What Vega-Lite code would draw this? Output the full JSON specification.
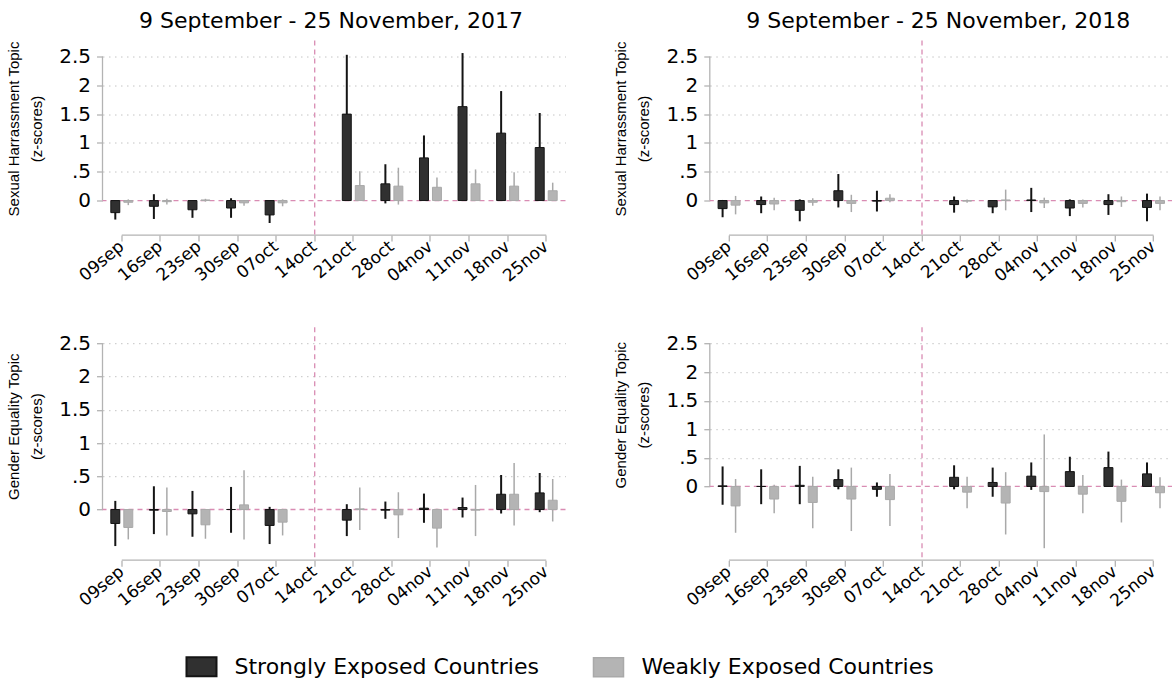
{
  "$schema": "https://vega.github.io/schema/vega-lite/v6.json",
  "background": "white",
  "padding": {"left": 6.5, "top": 9.5, "right": 0, "bottom": 5},
  "config": {
    "font": "DejaVu Sans",
    "view": {"stroke": null},
    "title": {"font": "DejaVu Sans", "fontSize": 22, "fontWeight": "normal", "color": "#000000", "anchor": "middle", "frame": "group", "baseline": "alphabetic", "offset": 7, "dx": -3},
    "axis": {"labelFont": "DejaVu Sans", "titleFont": "Liberation Sans", "labelColor": "#000000", "titleColor": "#000000", "titleFontWeight": "normal", "tickColor": "#b3b3b3", "tickWidth": 1.3, "tickSize": 6, "domain": false},
    "axisX": {"labelAngle": -40, "labelAlign": "right", "labelBaseline": "middle", "labelFontSize": 17, "labelPadding": 3, "grid": false, "labelOverlap": false},
    "axisY": {"labelFontSize": 20, "labelPadding": 6, "labelOverlap": false, "titleFontSize": 15, "titleLineHeight": 23, "titlePadding": 14, "gridColor": "#c4c4c4", "gridDash": [1.5, 4.5], "gridWidth": 1}
  },
  "datasets": {
    "est": [
      {"panel": "SH2017", "week": "09sep", "group": "Strongly Exposed Countries", "mean": -0.21, "lo": -0.33, "hi": -0.09},
      {"panel": "SH2017", "week": "09sep", "group": "Weakly Exposed Countries", "mean": -0.03, "lo": -0.08, "hi": 0.02},
      {"panel": "SH2017", "week": "16sep", "group": "Strongly Exposed Countries", "mean": -0.10, "lo": -0.32, "hi": 0.11},
      {"panel": "SH2017", "week": "16sep", "group": "Weakly Exposed Countries", "mean": -0.02, "lo": -0.07, "hi": 0.03},
      {"panel": "SH2017", "week": "23sep", "group": "Strongly Exposed Countries", "mean": -0.16, "lo": -0.30, "hi": -0.02},
      {"panel": "SH2017", "week": "23sep", "group": "Weakly Exposed Countries", "mean": 0.01, "lo": -0.02, "hi": 0.03},
      {"panel": "SH2017", "week": "30sep", "group": "Strongly Exposed Countries", "mean": -0.13, "lo": -0.30, "hi": 0.04},
      {"panel": "SH2017", "week": "30sep", "group": "Weakly Exposed Countries", "mean": -0.04, "lo": -0.09, "hi": 0.01},
      {"panel": "SH2017", "week": "07oct", "group": "Strongly Exposed Countries", "mean": -0.25, "lo": -0.39, "hi": -0.11},
      {"panel": "SH2017", "week": "07oct", "group": "Weakly Exposed Countries", "mean": -0.04, "lo": -0.10, "hi": 0.02},
      {"panel": "SH2017", "week": "21oct", "group": "Strongly Exposed Countries", "mean": 1.50, "lo": 0.47, "hi": 2.53},
      {"panel": "SH2017", "week": "21oct", "group": "Weakly Exposed Countries", "mean": 0.26, "lo": 0.01, "hi": 0.51},
      {"panel": "SH2017", "week": "28oct", "group": "Strongly Exposed Countries", "mean": 0.29, "lo": -0.05, "hi": 0.63},
      {"panel": "SH2017", "week": "28oct", "group": "Weakly Exposed Countries", "mean": 0.25, "lo": -0.07, "hi": 0.57},
      {"panel": "SH2017", "week": "04nov", "group": "Strongly Exposed Countries", "mean": 0.74, "lo": 0.35, "hi": 1.13},
      {"panel": "SH2017", "week": "04nov", "group": "Weakly Exposed Countries", "mean": 0.23, "lo": 0.06, "hi": 0.40},
      {"panel": "SH2017", "week": "11nov", "group": "Strongly Exposed Countries", "mean": 1.63, "lo": 0.70, "hi": 2.56},
      {"panel": "SH2017", "week": "11nov", "group": "Weakly Exposed Countries", "mean": 0.29, "lo": 0.04, "hi": 0.54},
      {"panel": "SH2017", "week": "18nov", "group": "Strongly Exposed Countries", "mean": 1.17, "lo": 0.44, "hi": 1.90},
      {"panel": "SH2017", "week": "18nov", "group": "Weakly Exposed Countries", "mean": 0.25, "lo": 0.01, "hi": 0.49},
      {"panel": "SH2017", "week": "25nov", "group": "Strongly Exposed Countries", "mean": 0.92, "lo": 0.32, "hi": 1.52},
      {"panel": "SH2017", "week": "25nov", "group": "Weakly Exposed Countries", "mean": 0.17, "lo": 0.03, "hi": 0.31},

      {"panel": "SH2018", "week": "09sep", "group": "Strongly Exposed Countries", "mean": -0.14, "lo": -0.29, "hi": 0.01},
      {"panel": "SH2018", "week": "09sep", "group": "Weakly Exposed Countries", "mean": -0.08, "lo": -0.24, "hi": 0.08},
      {"panel": "SH2018", "week": "16sep", "group": "Strongly Exposed Countries", "mean": -0.07, "lo": -0.22, "hi": 0.07},
      {"panel": "SH2018", "week": "16sep", "group": "Weakly Exposed Countries", "mean": -0.06, "lo": -0.17, "hi": 0.05},
      {"panel": "SH2018", "week": "23sep", "group": "Strongly Exposed Countries", "mean": -0.17, "lo": -0.36, "hi": 0.02},
      {"panel": "SH2018", "week": "23sep", "group": "Weakly Exposed Countries", "mean": -0.03, "lo": -0.09, "hi": 0.04},
      {"panel": "SH2018", "week": "30sep", "group": "Strongly Exposed Countries", "mean": 0.17, "lo": -0.12, "hi": 0.46},
      {"panel": "SH2018", "week": "30sep", "group": "Weakly Exposed Countries", "mean": -0.05, "lo": -0.20, "hi": 0.10},
      {"panel": "SH2018", "week": "07oct", "group": "Strongly Exposed Countries", "mean": -0.01, "lo": -0.19, "hi": 0.17},
      {"panel": "SH2018", "week": "07oct", "group": "Weakly Exposed Countries", "mean": 0.04, "lo": -0.03, "hi": 0.11},
      {"panel": "SH2018", "week": "21oct", "group": "Strongly Exposed Countries", "mean": -0.07, "lo": -0.21, "hi": 0.07},
      {"panel": "SH2018", "week": "21oct", "group": "Weakly Exposed Countries", "mean": -0.01, "lo": -0.04, "hi": 0.02},
      {"panel": "SH2018", "week": "28oct", "group": "Strongly Exposed Countries", "mean": -0.11, "lo": -0.22, "hi": 0.00},
      {"panel": "SH2018", "week": "28oct", "group": "Weakly Exposed Countries", "mean": 0.01, "lo": -0.17, "hi": 0.19},
      {"panel": "SH2018", "week": "04nov", "group": "Strongly Exposed Countries", "mean": 0.01, "lo": -0.20, "hi": 0.22},
      {"panel": "SH2018", "week": "04nov", "group": "Weakly Exposed Countries", "mean": -0.04, "lo": -0.13, "hi": 0.05},
      {"panel": "SH2018", "week": "11nov", "group": "Strongly Exposed Countries", "mean": -0.13, "lo": -0.27, "hi": 0.02},
      {"panel": "SH2018", "week": "11nov", "group": "Weakly Exposed Countries", "mean": -0.05, "lo": -0.12, "hi": 0.02},
      {"panel": "SH2018", "week": "18nov", "group": "Strongly Exposed Countries", "mean": -0.07, "lo": -0.25, "hi": 0.11},
      {"panel": "SH2018", "week": "18nov", "group": "Weakly Exposed Countries", "mean": -0.02, "lo": -0.11, "hi": 0.07},
      {"panel": "SH2018", "week": "25nov", "group": "Strongly Exposed Countries", "mean": -0.12, "lo": -0.36, "hi": 0.12},
      {"panel": "SH2018", "week": "25nov", "group": "Weakly Exposed Countries", "mean": -0.05, "lo": -0.17, "hi": 0.07},

      {"panel": "GE2017", "week": "09sep", "group": "Strongly Exposed Countries", "mean": -0.21, "lo": -0.55, "hi": 0.13},
      {"panel": "GE2017", "week": "09sep", "group": "Weakly Exposed Countries", "mean": -0.27, "lo": -0.45, "hi": -0.09},
      {"panel": "GE2017", "week": "16sep", "group": "Strongly Exposed Countries", "mean": -0.01, "lo": -0.37, "hi": 0.35},
      {"panel": "GE2017", "week": "16sep", "group": "Weakly Exposed Countries", "mean": -0.03, "lo": -0.39, "hi": 0.33},
      {"panel": "GE2017", "week": "23sep", "group": "Strongly Exposed Countries", "mean": -0.065, "lo": -0.41, "hi": 0.28},
      {"panel": "GE2017", "week": "23sep", "group": "Weakly Exposed Countries", "mean": -0.23, "lo": -0.44, "hi": -0.02},
      {"panel": "GE2017", "week": "30sep", "group": "Strongly Exposed Countries", "mean": 0.0, "lo": -0.35, "hi": 0.34},
      {"panel": "GE2017", "week": "30sep", "group": "Weakly Exposed Countries", "mean": 0.07, "lo": -0.45, "hi": 0.59},
      {"panel": "GE2017", "week": "07oct", "group": "Strongly Exposed Countries", "mean": -0.24, "lo": -0.52, "hi": 0.04},
      {"panel": "GE2017", "week": "07oct", "group": "Weakly Exposed Countries", "mean": -0.19, "lo": -0.39, "hi": 0.01},
      {"panel": "GE2017", "week": "21oct", "group": "Strongly Exposed Countries", "mean": -0.16, "lo": -0.40, "hi": 0.08},
      {"panel": "GE2017", "week": "21oct", "group": "Weakly Exposed Countries", "mean": 0.01, "lo": -0.31, "hi": 0.33},
      {"panel": "GE2017", "week": "28oct", "group": "Strongly Exposed Countries", "mean": -0.01, "lo": -0.14, "hi": 0.12},
      {"panel": "GE2017", "week": "28oct", "group": "Weakly Exposed Countries", "mean": -0.08, "lo": -0.43, "hi": 0.26},
      {"panel": "GE2017", "week": "04nov", "group": "Strongly Exposed Countries", "mean": 0.02, "lo": -0.20, "hi": 0.24},
      {"panel": "GE2017", "week": "04nov", "group": "Weakly Exposed Countries", "mean": -0.28, "lo": -0.57, "hi": 0.01},
      {"panel": "GE2017", "week": "11nov", "group": "Strongly Exposed Countries", "mean": 0.03, "lo": -0.12, "hi": 0.18},
      {"panel": "GE2017", "week": "11nov", "group": "Weakly Exposed Countries", "mean": -0.01, "lo": -0.40, "hi": 0.37},
      {"panel": "GE2017", "week": "18nov", "group": "Strongly Exposed Countries", "mean": 0.23, "lo": -0.06, "hi": 0.52},
      {"panel": "GE2017", "week": "18nov", "group": "Weakly Exposed Countries", "mean": 0.23, "lo": -0.24, "hi": 0.70},
      {"panel": "GE2017", "week": "25nov", "group": "Strongly Exposed Countries", "mean": 0.25, "lo": -0.04, "hi": 0.55},
      {"panel": "GE2017", "week": "25nov", "group": "Weakly Exposed Countries", "mean": 0.14, "lo": -0.18, "hi": 0.46},

      {"panel": "GE2018", "week": "09sep", "group": "Strongly Exposed Countries", "mean": 0.01, "lo": -0.32, "hi": 0.35},
      {"panel": "GE2018", "week": "09sep", "group": "Weakly Exposed Countries", "mean": -0.34, "lo": -0.81, "hi": 0.13},
      {"panel": "GE2018", "week": "16sep", "group": "Strongly Exposed Countries", "mean": 0.0, "lo": -0.31, "hi": 0.30},
      {"panel": "GE2018", "week": "16sep", "group": "Weakly Exposed Countries", "mean": -0.22, "lo": -0.47, "hi": 0.03},
      {"panel": "GE2018", "week": "23sep", "group": "Strongly Exposed Countries", "mean": 0.02, "lo": -0.31, "hi": 0.36},
      {"panel": "GE2018", "week": "23sep", "group": "Weakly Exposed Countries", "mean": -0.28, "lo": -0.73, "hi": 0.17},
      {"panel": "GE2018", "week": "30sep", "group": "Strongly Exposed Countries", "mean": 0.12, "lo": -0.05, "hi": 0.30},
      {"panel": "GE2018", "week": "30sep", "group": "Weakly Exposed Countries", "mean": -0.22, "lo": -0.78, "hi": 0.33},
      {"panel": "GE2018", "week": "07oct", "group": "Strongly Exposed Countries", "mean": -0.05, "lo": -0.18, "hi": 0.07},
      {"panel": "GE2018", "week": "07oct", "group": "Weakly Exposed Countries", "mean": -0.23, "lo": -0.69, "hi": 0.22},
      {"panel": "GE2018", "week": "21oct", "group": "Strongly Exposed Countries", "mean": 0.16, "lo": -0.05, "hi": 0.37},
      {"panel": "GE2018", "week": "21oct", "group": "Weakly Exposed Countries", "mean": -0.10, "lo": -0.38, "hi": 0.17},
      {"panel": "GE2018", "week": "28oct", "group": "Strongly Exposed Countries", "mean": 0.07, "lo": -0.18, "hi": 0.33},
      {"panel": "GE2018", "week": "28oct", "group": "Weakly Exposed Countries", "mean": -0.29, "lo": -0.84, "hi": 0.25},
      {"panel": "GE2018", "week": "04nov", "group": "Strongly Exposed Countries", "mean": 0.18, "lo": -0.06, "hi": 0.42},
      {"panel": "GE2018", "week": "04nov", "group": "Weakly Exposed Countries", "mean": -0.09, "lo": -1.08, "hi": 0.91},
      {"panel": "GE2018", "week": "11nov", "group": "Strongly Exposed Countries", "mean": 0.26, "lo": 0.0, "hi": 0.52},
      {"panel": "GE2018", "week": "11nov", "group": "Weakly Exposed Countries", "mean": -0.135, "lo": -0.47, "hi": 0.20},
      {"panel": "GE2018", "week": "18nov", "group": "Strongly Exposed Countries", "mean": 0.33, "lo": 0.05, "hi": 0.61},
      {"panel": "GE2018", "week": "18nov", "group": "Weakly Exposed Countries", "mean": -0.26, "lo": -0.63, "hi": 0.12},
      {"panel": "GE2018", "week": "25nov", "group": "Strongly Exposed Countries", "mean": 0.22, "lo": 0.02, "hi": 0.42},
      {"panel": "GE2018", "week": "25nov", "group": "Weakly Exposed Countries", "mean": -0.11, "lo": -0.38, "hi": 0.16}
    ]
  },
  "columns": 2,
  "bounds": "flush",
  "spacing": {"row": 91.7, "column": 144.3},
  "resolve": {"scale": {"fill": "shared", "stroke": "shared"}, "legend": {"fill": "shared", "stroke": "shared"}},
  "concat": [
    {
      "width": 463, "height": 194.6,
      "title": {"text": "9 September - 25 November, 2017"},
      "layer": [
        {"data": {"name": "est"}, "transform": [{"filter": "datum.panel === 'SH2017'"}],
         "mark": {"type": "bar", "strokeWidth": 1, "opacity": 0},
         "encoding": {
           "x": {"field": "week", "type": "ordinal", "sort": null, "scale": {"domain": ["09sep","16sep","23sep","30sep","07oct","14oct","21oct","28oct","04nov","11nov","18nov","25nov"], "paddingInner": 0, "paddingOuter": 0}, "axis": {"title": null, "labelOverlap": false}},
           "y": {"field": "mean", "type": "quantitative", "scale": {"domain": [-0.6, 2.778], "nice": false, "zero": false},
                 "axis": {"values": [0, 0.5, 1, 1.5, 2, 2.5], "tickCount": 12, "labelOverlap": false, "labelExpr": "datum.value == 0.5 ? '.5' : format(datum.value, '~g')", "title": ["Sexual Harrassment Topic", "(z-scores)"], "titleY": 88, "gridOpacity": {"condition": {"test": "datum.value === 0", "value": 0}, "value": 1}}}
         }},
        {"data": {"values": [{}]}, "mark": {"type": "rule", "color": "#b3b3b3", "strokeWidth": 1.3},
         "encoding": {"x": {"datum": "09sep", "type": "ordinal", "bandPosition": 0}, "y": {"datum": 0, "type": "quantitative"}, "y2": {"datum": 2.5}}},
        {"data": {"values": [{}]}, "mark": {"type": "rule", "color": "#b3b3b3", "strokeWidth": 1.3},
         "encoding": {"x": {"datum": "09sep", "type": "ordinal"}, "x2": {"datum": "25nov"}, "y": {"datum": -0.6, "type": "quantitative"}}},
        {"data": {"values": [{}]}, "mark": {"type": "rule", "color": "#d98cb3", "strokeWidth": 1.3, "strokeDash": [5, 4]},
         "encoding": {"y": {"datum": 0, "type": "quantitative"}}},
        {"data": {"values": [{}]}, "mark": {"type": "rule", "color": "#d98cb3", "strokeWidth": 1.3, "strokeDash": [5, 4]},
         "encoding": {"x": {"datum": "14oct", "type": "ordinal"}}},
        {"data": {"name": "est"}, "transform": [{"filter": "datum.panel === 'SH2017'"}],
         "mark": {"type": "rule"},
         "encoding": {
           "x": {"field": "week", "type": "ordinal"},
           "xOffset": {"field": "group", "type": "nominal"},
           "y": {"field": "lo", "type": "quantitative"},
           "y2": {"field": "hi"},
           "stroke": {"field": "group", "type": "nominal"},
           "strokeWidth": {"field": "group", "type": "nominal", "scale": {"domain": ["Strongly Exposed Countries", "Weakly Exposed Countries"], "range": [2, 1.5]}, "legend": null}
         }},
        {"data": {"name": "est"}, "transform": [{"filter": "datum.panel === 'SH2017'"}],
         "mark": {"type": "bar", "strokeWidth": 1},
         "encoding": {
           "x": {"field": "week", "type": "ordinal"},
           "xOffset": {"field": "group", "type": "nominal", "scale": {"domain": ["Strongly Exposed Countries", "Weakly Exposed Countries"], "paddingInner": 0.31, "paddingOuter": 0.64}},
           "y": {"field": "mean", "type": "quantitative"},
           "y2": {"datum": 0},
           "fill": {"field": "group", "type": "nominal", "scale": {"domain": ["Strongly Exposed Countries", "Weakly Exposed Countries"], "range": ["#303030", "#b4b4b4"]},
                    "legend": {"title": null, "orient": "none", "legendX": 88, "legendY": 615, "direction": "horizontal", "symbolType": "M-1.58,-1H1.58V1H-1.58Z", "symbolSize": 361, "symbolStrokeWidth": 1.2, "labelFontSize": 22, "labelFont": "DejaVu Sans", "labelColor": "#000000", "labelLimit": 0, "labelOffset": 22, "columnPadding": 50}},
           "stroke": {"field": "group", "type": "nominal", "scale": {"domain": ["Strongly Exposed Countries", "Weakly Exposed Countries"], "range": ["#141414", "#a9a9a9"]},
                    "legend": {"title": null, "orient": "none", "legendX": 88, "legendY": 615, "direction": "horizontal", "symbolType": "M-1.58,-1H1.58V1H-1.58Z", "symbolSize": 361, "symbolStrokeWidth": 1.2, "labelFontSize": 22, "labelFont": "DejaVu Sans", "labelColor": "#000000", "labelLimit": 0, "labelOffset": 22, "columnPadding": 50}}
         }}
      ]
    },
    {
      "width": 463, "height": 194.6,
      "title": {"text": "9 September - 25 November, 2018"},
      "layer": [
        {"data": {"name": "est"}, "transform": [{"filter": "datum.panel === 'SH2018'"}],
         "mark": {"type": "bar", "strokeWidth": 1, "opacity": 0},
         "encoding": {
           "x": {"field": "week", "type": "ordinal", "sort": null, "scale": {"domain": ["09sep","16sep","23sep","30sep","07oct","14oct","21oct","28oct","04nov","11nov","18nov","25nov"], "paddingInner": 0, "paddingOuter": 0}, "axis": {"title": null, "labelOverlap": false}},
           "y": {"field": "mean", "type": "quantitative", "scale": {"domain": [-0.6, 2.778], "nice": false, "zero": false},
                 "axis": {"values": [0, 0.5, 1, 1.5, 2, 2.5], "tickCount": 12, "labelOverlap": false, "labelExpr": "datum.value == 0.5 ? '.5' : format(datum.value, '~g')", "title": ["Sexual Harrassment Topic", "(z-scores)"], "titleY": 88, "gridOpacity": {"condition": {"test": "datum.value === 0", "value": 0}, "value": 1}}}
         }},
        {"data": {"values": [{}]}, "mark": {"type": "rule", "color": "#b3b3b3", "strokeWidth": 1.3},
         "encoding": {"x": {"datum": "09sep", "type": "ordinal", "bandPosition": 0}, "y": {"datum": 0, "type": "quantitative"}, "y2": {"datum": 2.5}}},
        {"data": {"values": [{}]}, "mark": {"type": "rule", "color": "#b3b3b3", "strokeWidth": 1.3},
         "encoding": {"x": {"datum": "09sep", "type": "ordinal"}, "x2": {"datum": "25nov"}, "y": {"datum": -0.6, "type": "quantitative"}}},
        {"data": {"values": [{}]}, "mark": {"type": "rule", "color": "#d98cb3", "strokeWidth": 1.3, "strokeDash": [5, 4]},
         "encoding": {"y": {"datum": 0, "type": "quantitative"}}},
        {"data": {"values": [{}]}, "mark": {"type": "rule", "color": "#d98cb3", "strokeWidth": 1.3, "strokeDash": [5, 4]},
         "encoding": {"x": {"datum": "14oct", "type": "ordinal"}}},
        {"data": {"name": "est"}, "transform": [{"filter": "datum.panel === 'SH2018'"}],
         "mark": {"type": "rule"},
         "encoding": {
           "x": {"field": "week", "type": "ordinal"},
           "xOffset": {"field": "group", "type": "nominal"},
           "y": {"field": "lo", "type": "quantitative"},
           "y2": {"field": "hi"},
           "stroke": {"field": "group", "type": "nominal"},
           "strokeWidth": {"field": "group", "type": "nominal", "scale": {"domain": ["Strongly Exposed Countries", "Weakly Exposed Countries"], "range": [2, 1.5]}, "legend": null}
         }},
        {"data": {"name": "est"}, "transform": [{"filter": "datum.panel === 'SH2018'"}],
         "mark": {"type": "bar", "strokeWidth": 1},
         "encoding": {
           "x": {"field": "week", "type": "ordinal"},
           "xOffset": {"field": "group", "type": "nominal", "scale": {"domain": ["Strongly Exposed Countries", "Weakly Exposed Countries"], "paddingInner": 0.31, "paddingOuter": 0.64}},
           "y": {"field": "mean", "type": "quantitative"},
           "y2": {"datum": 0},
           "fill": {"field": "group", "type": "nominal"},
           "stroke": {"field": "group", "type": "nominal"}
         }}
      ]
    },
    {
      "width": 463, "height": 233,
      "layer": [
        {"data": {"name": "est"}, "transform": [{"filter": "datum.panel === 'GE2017'"}],
         "mark": {"type": "bar", "strokeWidth": 1, "opacity": 0},
         "encoding": {
           "x": {"field": "week", "type": "ordinal", "sort": null, "scale": {"domain": ["09sep","16sep","23sep","30sep","07oct","14oct","21oct","28oct","04nov","11nov","18nov","25nov"], "paddingInner": 0, "paddingOuter": 0}, "axis": {"title": null, "labelOverlap": false}},
           "y": {"field": "mean", "type": "quantitative", "scale": {"domain": [-0.763, 2.745], "nice": false, "zero": false},
                 "axis": {"values": [0, 0.5, 1, 1.5, 2, 2.5], "tickCount": 12, "labelOverlap": false, "labelExpr": "datum.value == 0.5 ? '.5' : format(datum.value, '~g')", "title": ["Gender Equality Topic", "(z-scores)"], "titleY": 99, "gridOpacity": {"condition": {"test": "datum.value === 0", "value": 0}, "value": 1}}}
         }},
        {"data": {"values": [{}]}, "mark": {"type": "rule", "color": "#b3b3b3", "strokeWidth": 1.3},
         "encoding": {"x": {"datum": "09sep", "type": "ordinal", "bandPosition": 0}, "y": {"datum": 0, "type": "quantitative"}, "y2": {"datum": 2.5}}},
        {"data": {"values": [{}]}, "mark": {"type": "rule", "color": "#b3b3b3", "strokeWidth": 1.3},
         "encoding": {"x": {"datum": "09sep", "type": "ordinal"}, "x2": {"datum": "25nov"}, "y": {"datum": -0.763, "type": "quantitative"}}},
        {"data": {"values": [{}]}, "mark": {"type": "rule", "color": "#d98cb3", "strokeWidth": 1.3, "strokeDash": [5, 4]},
         "encoding": {"y": {"datum": 0, "type": "quantitative"}}},
        {"data": {"values": [{}]}, "mark": {"type": "rule", "color": "#d98cb3", "strokeWidth": 1.3, "strokeDash": [5, 4]},
         "encoding": {"x": {"datum": "14oct", "type": "ordinal"}}},
        {"data": {"name": "est"}, "transform": [{"filter": "datum.panel === 'GE2017'"}],
         "mark": {"type": "rule"},
         "encoding": {
           "x": {"field": "week", "type": "ordinal"},
           "xOffset": {"field": "group", "type": "nominal"},
           "y": {"field": "lo", "type": "quantitative"},
           "y2": {"field": "hi"},
           "stroke": {"field": "group", "type": "nominal"},
           "strokeWidth": {"field": "group", "type": "nominal", "scale": {"domain": ["Strongly Exposed Countries", "Weakly Exposed Countries"], "range": [2, 1.5]}, "legend": null}
         }},
        {"data": {"name": "est"}, "transform": [{"filter": "datum.panel === 'GE2017'"}],
         "mark": {"type": "bar", "strokeWidth": 1},
         "encoding": {
           "x": {"field": "week", "type": "ordinal"},
           "xOffset": {"field": "group", "type": "nominal", "scale": {"domain": ["Strongly Exposed Countries", "Weakly Exposed Countries"], "paddingInner": 0.31, "paddingOuter": 0.64}},
           "y": {"field": "mean", "type": "quantitative"},
           "y2": {"datum": 0},
           "fill": {"field": "group", "type": "nominal"},
           "stroke": {"field": "group", "type": "nominal"}
         }}
      ]
    },
    {
      "width": 463, "height": 233,
      "layer": [
        {"data": {"name": "est"}, "transform": [{"filter": "datum.panel === 'GE2018'"}],
         "mark": {"type": "bar", "strokeWidth": 1, "opacity": 0},
         "encoding": {
           "x": {"field": "week", "type": "ordinal", "sort": null, "scale": {"domain": ["09sep","16sep","23sep","30sep","07oct","14oct","21oct","28oct","04nov","11nov","18nov","25nov"], "paddingInner": 0, "paddingOuter": 0}, "axis": {"title": null, "labelOverlap": false}},
           "y": {"field": "mean", "type": "quantitative", "scale": {"domain": [-1.29, 2.786], "nice": false, "zero": false},
                 "axis": {"values": [0, 0.5, 1, 1.5, 2, 2.5], "tickCount": 12, "labelOverlap": false, "labelExpr": "datum.value == 0.5 ? '.5' : format(datum.value, '~g')", "title": ["Gender Equality Topic", "(z-scores)"], "titleY": 87.5, "gridOpacity": {"condition": {"test": "datum.value === 0", "value": 0}, "value": 1}}}
         }},
        {"data": {"values": [{}]}, "mark": {"type": "rule", "color": "#b3b3b3", "strokeWidth": 1.3},
         "encoding": {"x": {"datum": "09sep", "type": "ordinal", "bandPosition": 0}, "y": {"datum": 0, "type": "quantitative"}, "y2": {"datum": 2.5}}},
        {"data": {"values": [{}]}, "mark": {"type": "rule", "color": "#b3b3b3", "strokeWidth": 1.3},
         "encoding": {"x": {"datum": "09sep", "type": "ordinal"}, "x2": {"datum": "25nov"}, "y": {"datum": -1.29, "type": "quantitative"}}},
        {"data": {"values": [{}]}, "mark": {"type": "rule", "color": "#d98cb3", "strokeWidth": 1.3, "strokeDash": [5, 4]},
         "encoding": {"y": {"datum": 0, "type": "quantitative"}}},
        {"data": {"values": [{}]}, "mark": {"type": "rule", "color": "#d98cb3", "strokeWidth": 1.3, "strokeDash": [5, 4]},
         "encoding": {"x": {"datum": "14oct", "type": "ordinal"}}},
        {"data": {"name": "est"}, "transform": [{"filter": "datum.panel === 'GE2018'"}],
         "mark": {"type": "rule"},
         "encoding": {
           "x": {"field": "week", "type": "ordinal"},
           "xOffset": {"field": "group", "type": "nominal"},
           "y": {"field": "lo", "type": "quantitative"},
           "y2": {"field": "hi"},
           "stroke": {"field": "group", "type": "nominal"},
           "strokeWidth": {"field": "group", "type": "nominal", "scale": {"domain": ["Strongly Exposed Countries", "Weakly Exposed Countries"], "range": [2, 1.5]}, "legend": null}
         }},
        {"data": {"name": "est"}, "transform": [{"filter": "datum.panel === 'GE2018'"}],
         "mark": {"type": "bar", "strokeWidth": 1},
         "encoding": {
           "x": {"field": "week", "type": "ordinal"},
           "xOffset": {"field": "group", "type": "nominal", "scale": {"domain": ["Strongly Exposed Countries", "Weakly Exposed Countries"], "paddingInner": 0.31, "paddingOuter": 0.64}},
           "y": {"field": "mean", "type": "quantitative"},
           "y2": {"datum": 0},
           "fill": {"field": "group", "type": "nominal"},
           "stroke": {"field": "group", "type": "nominal"}
         }}
      ]
    }
  ]
}
